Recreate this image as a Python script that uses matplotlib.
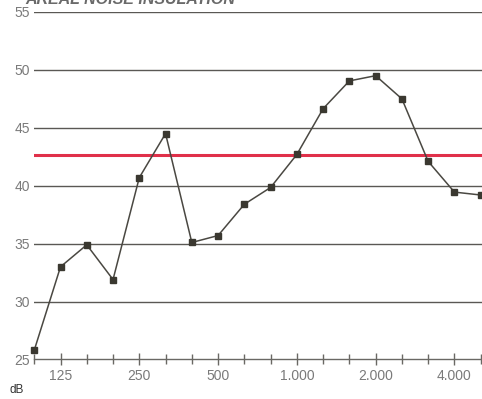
import matplotlib
matplotlib.use('Agg')
import matplotlib.pyplot as plt

# third-octave bands 100 Hz .. 5000 Hz
bands = [100, 125, 160, 200, 250, 315, 400, 500, 630, 800,
         1000, 1250, 1600, 2000, 2500, 3150, 4000, 5000]
values = [25.8, 33.0, 34.9, 31.9, 40.7, 44.5, 35.1, 35.7, 38.4, 39.85,
          42.7, 46.65, 49.05, 49.5, 47.5, 42.1, 39.45, 39.2]
reference = 42.65
tick_bands = [125, 250, 500, 1000, 2000, 4000]
tick_labels = ['125', '250', '500', '1.000', '2.000', '4.000']
y_ticks = [25, 30, 35, 40, 45, 50, 55]

plt.rcParams['font.family'] = ['Liberation Sans', 'DejaVu Sans']

fig = plt.figure(figsize=(4.82, 3.99), dpi=100)
ax = fig.add_axes([0.0705, 0.099, 0.9295, 0.871])

idx = list(range(len(bands)))
for yv in y_ticks[1:]:
    ax.axhline(yv, color='#5a5854', lw=1.0, zorder=1)
ax.axhline(reference, color='#e0304a', lw=2.2, zorder=2)
ax.plot(idx, values, color='#4a4842', lw=1.1, marker='s', markersize=4.6,
        markerfacecolor='#3a3830', markeredgecolor='#3a3830', zorder=3,
        clip_on=False)

ax.set_xlim(-0.01, 17.05)
ax.set_ylim(25, 55)
ax.set_yticks(y_ticks)
ax.tick_params(axis='y', length=0, pad=3, labelsize=10, labelcolor='#7a7a7a')

ax.set_xticks([bands.index(b) for b in tick_bands])
ax.set_xticklabels(tick_labels)
ax.set_xticks(idx, minor=True)
ax.tick_params(axis='x', which='major', direction='inout', length=9, width=1,
               color='#6a6864', labelsize=10, labelcolor='#7a7a7a', pad=2)
ax.tick_params(axis='x', which='minor', direction='inout', length=7, width=1,
               color='#6a6864')

for s in ['top', 'right', 'left']:
    ax.spines[s].set_visible(False)
ax.spines['bottom'].set_color('#6a6864')
ax.spines['bottom'].set_linewidth(1.0)

# title sits partly above the figure edge, as in the source
fig.text(0.052, 0.99, 'AREAL NOISE INSULATION', fontsize=11.5, fontweight='bold',
         fontstyle='italic', color='#6a6a6a', va='baseline')
fig.text(0.02, 0.014, 'dB', fontsize=8.5, color='#333333')

fig.savefig('out.png', dpi=100)
